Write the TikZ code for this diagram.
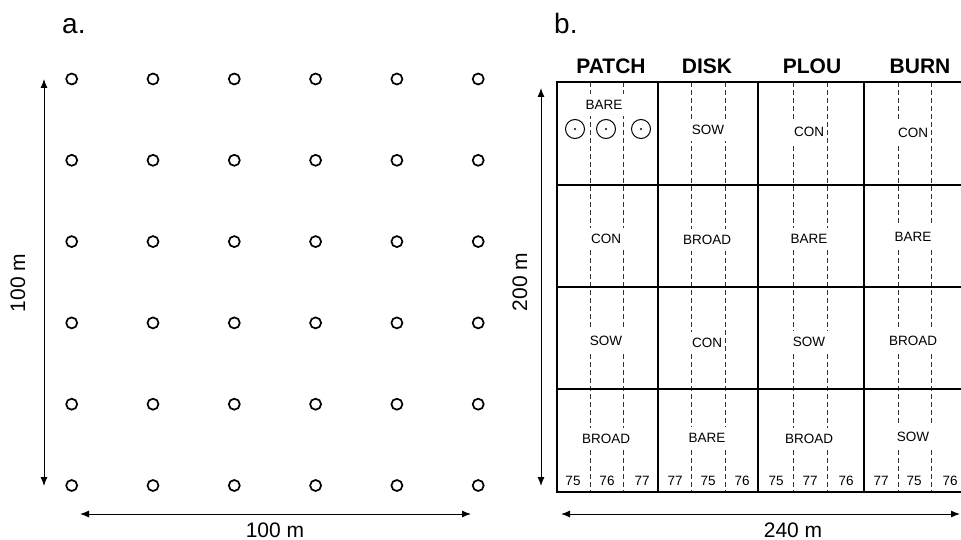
\documentclass[tikz,border=0pt]{standalone}
\usepackage{fontspec}
\setmainfont{Liberation Sans}
\usetikzlibrary{arrows.meta}
\begin{document}
\begin{tikzpicture}[x=1pt,y=-1pt,
  dot/.style={circle,draw,line width=1.7pt,minimum size=11pt,inner sep=0pt},
  dim/.style={line width=1pt,{Latex[length=9pt,width=7pt]}-{Latex[length=9pt,width=7pt]}},
  gridline/.style={line width=2.2pt},
  furrow/.style={dash pattern=on 5pt off 3pt,line width=0.9pt,draw=black!80},
  lab/.style={fill=white,inner xsep=3pt,inner ysep=6pt,font=\fontsize{13.5}{14}\selectfont},
  num/.style={inner sep=0pt,font=\fontsize{13.5}{14}\selectfont},
  head/.style={anchor=base,inner sep=0pt,font=\fontsize{21}{24}\selectfont\bfseries},
  panel/.style={anchor=base west,inner sep=0pt,font=\fontsize{28}{30}\selectfont},
  dimlab/.style={inner sep=0pt,font=\fontsize{21}{24}\selectfont},
  plot/.style={circle,draw,fill=white,line width=1pt,minimum size=19pt,inner sep=0pt},
  plotdot/.style={circle,fill,minimum size=2.4pt,inner sep=0pt}
]
\useasboundingbox (0,0) rectangle (961,540);

% ---------- panel a ----------
\node[panel] (pa) at (62,34) {a.};
\foreach \i in {0,...,5}
  \foreach \j in {0,...,5}
    \node[dot] (d\i\j) at ({71.7+81.3*\i},{79+81.3*\j}) {};
\coordinate (av1) at (44,79);
\coordinate (av2) at (44,486);
\draw[dim] (av1) -- (av2);
\coordinate (ah1) at (80,514);
\coordinate (ah2) at (471,514);
\draw[dim] (ah1) -- (ah2);
\node[dimlab,rotate=90] (lv) at (18,283) {100 m};
\node[dimlab,anchor=base] (lh) at (275,537) {100 m};

% ---------- panel b ----------
\node[panel] (pb) at (554,34) {b.};
\node[head] (h1) at (611,74) {PATCH};
\node[head] (h2) at (707,74) {DISK};
\node[head] (h3) at (812,74) {PLOU};
\node[head] (h4) at (920,74) {BURN};

% furrows (dashed)
\foreach \x in {590,623,691,725,793,827,898,931}
  \draw[furrow] (\x,82) -- (\x,492);

% grid
\draw[gridline] (557,82) rectangle (968,492);
\foreach \x in {658,758,864}
  \draw[gridline] (\x,82) -- (\x,492);
\foreach \y in {185,287,389}
  \draw[gridline] (557,\y) -- (968,\y);

% cell labels
\node[lab] (c11) at (604,105) {BARE};
\node[lab] (c12) at (708,130) {SOW};
\node[lab] (c13) at (809,132) {CON};
\node[lab] (c14) at (913,133) {CON};
\node[lab] (c21) at (606,239) {CON};
\node[lab] (c22) at (707,240) {BROAD};
\node[lab] (c23) at (809,239) {BARE};
\node[lab] (c24) at (913,237) {BARE};
\node[lab] (c31) at (606,341) {SOW};
\node[lab] (c32) at (707,343) {CON};
\node[lab] (c33) at (809,342) {SOW};
\node[lab] (c34) at (913,341) {BROAD};
\node[lab] (c41) at (606,439) {BROAD};
\node[lab] (c42) at (707,438) {BARE};
\node[lab] (c43) at (809,439) {BROAD};
\node[lab] (c44) at (913,437) {SOW};

% sampling plots
\foreach \x/\n in {575/1,606/2,641/3}{
  \node[plot] (p\n) at (\x,129) {};
  \node[plotdot] (pd\n) at (p\n.center) {};
}

% bottom numbers
\foreach \x/\t [count=\k] in {573/75,607/76,642/77,675/77,708/75,742/76,776/75,810/77,846/76,881/77,914/75,950/76}
  \node[num] (n\k) at (\x,481) {\t};

% dimensions
\coordinate (bv1) at (541,88);
\coordinate (bv2) at (541,486);
\draw[dim] (bv1) -- (bv2);
\coordinate (bh1) at (561,514);
\coordinate (bh2) at (960,514);
\draw[dim] (bh1) -- (bh2);
\node[dimlab,rotate=90] (lbv) at (520,282) {200 m};
\node[dimlab,anchor=base] (lbh) at (793,537) {240 m};
\end{tikzpicture}
\end{document}
